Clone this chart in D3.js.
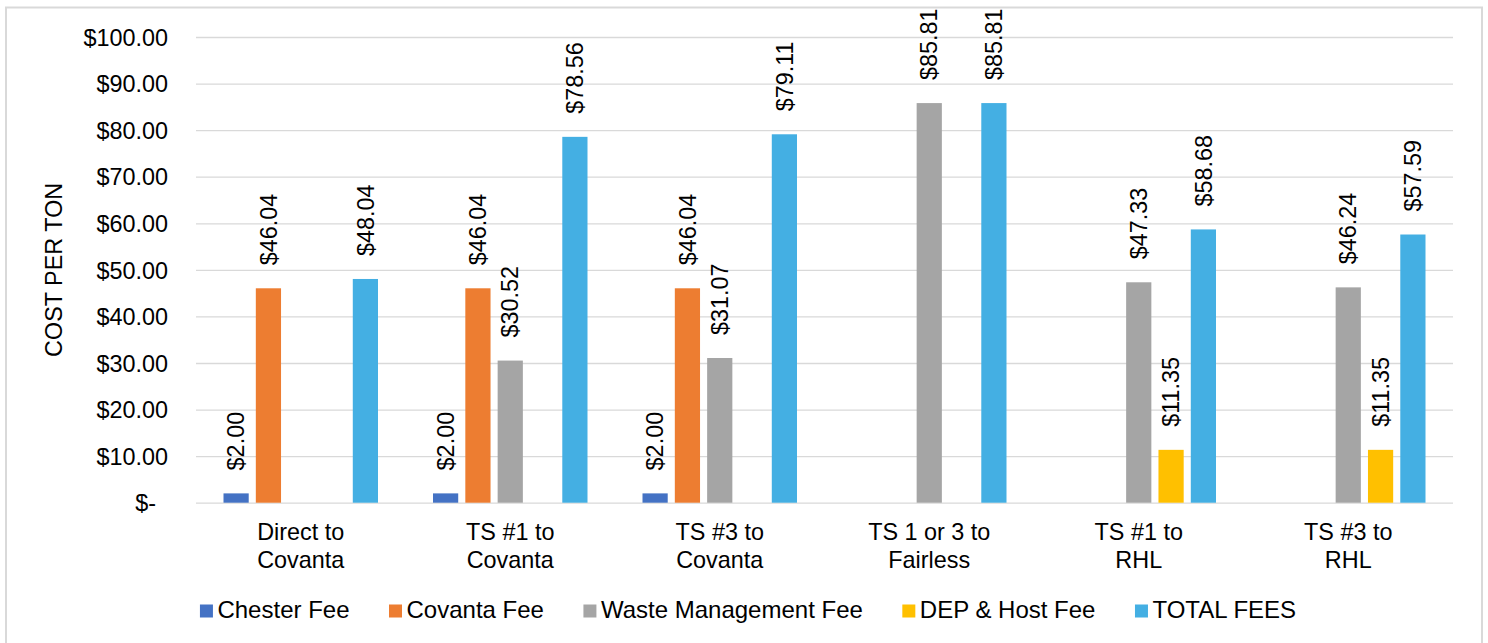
<!DOCTYPE html>
<html>
<head>
<meta charset="utf-8">
<script src="https://cdn.jsdelivr.net/npm/d3@7"></script>
<style>
  body { margin: 0; background: #fff; }
  svg text { font-family: 'Liberation Sans', Arial, sans-serif; fill: #000; }
</style>
</head>
<body>
<svg id="svg"></svg>
<script>
// data
let categories = [['Direct to', 'Covanta'], ['TS #1 to', 'Covanta'], ['TS #3 to', 'Covanta'],
    ['TS 1 or 3 to', 'Fairless'], ['TS #1 to', 'RHL'], ['TS #3 to', 'RHL']]
let seriesNames = ['Chester Fee', 'Covanta Fee', 'Waste Management Fee', 'DEP & Host Fee', 'TOTAL FEES']
let seriesColors = ['#4472C4', '#ED7D31', '#A5A5A5', '#FFC000', '#44AFE3']
let chesterFee = [2.00, 2.00, 2.00, null, null, null]
let covantaFee = [46.04, 46.04, 46.04, null, null, null]
let wasteMgmtFee = [null, 30.52, 31.07, 85.81, 47.33, 46.24]
let depHostFee = [null, null, null, null, 11.35, 11.35]
let totalFees = [48.04, 78.56, 79.11, 85.81, 58.68, 57.59]
let yTicks = [0, 10, 20, 30, 40, 50, 60, 70, 80, 90, 100]

let seriesValues = [chesterFee, covantaFee, wasteMgmtFee, depHostFee, totalFees]

let chartW = 1488, chartH = 643
let plotL = 196, plotR = 1453, plotT = 37, plotB = 502.7
let fontSize = 23.4

let svg = d3.select('#svg').attr('width', chartW).attr('height', chartH)

// chart border
svg.append('rect')
    .attr('x', 6).attr('y', 7.5)
    .attr('width', 1476).attr('height', 660)
    .attr('fill', 'none').attr('stroke', '#d9d9d9').attr('stroke-width', 2)

let catIdx = categories.map((d, i) => i)
let x0 = d3.scaleBand().domain(catIdx).range([plotL, plotR])
let groupPad = 27.5
let x1 = d3.scaleBand().domain(seriesNames)
    .range([groupPad, x0.bandwidth() - groupPad])
    .paddingInner(0.22)
let y = d3.scaleLinear().domain([0, 100]).range([plotB, plotT])

// gridlines + y labels
let yAxis = d3.axisLeft(y)
    .tickValues(yTicks)
    .tickSize(-(plotR - plotL))
    .tickPadding(28)
    .tickFormat(d => d === 0 ? '$-' : d3.format('$.2f')(d))
let yGroup = svg.append('g')
    .attr('transform', `translate(${plotL},0)`)
    .call(yAxis)
yGroup.select('.domain').remove()
yGroup.selectAll('.tick line').attr('stroke', '#d9d9d9').attr('stroke-width', 1.3)
yGroup.selectAll('.tick text')
    .attr('font-size', fontSize)
    .attr('dy', '0.35em')
    .attr('dx', d => d === 0 ? -12 : 0)

// y title
svg.append('text')
    .attr('transform', `translate(62,${(plotT + plotB) / 2}) rotate(-90)`)
    .attr('text-anchor', 'middle')
    .attr('font-size', fontSize)
    .text('COST PER TON')

// bars
let rows = []
catIdx.forEach(i => {
    seriesNames.forEach((s, j) => {
        let v = seriesValues[j][i]
        if (v != null) rows.push({ cat: i, series: s, color: seriesColors[j], value: v })
    })
})

svg.append('g')
    .selectAll('rect')
    .data(rows)
    .join('rect')
    .attr('x', d => x0(d.cat) + x1(d.series))
    .attr('y', d => y(d.value))
    .attr('width', x1.bandwidth())
    .attr('height', d => y(0) - y(d.value))
    .attr('fill', d => d.color)

// value labels
svg.append('g')
    .selectAll('text')
    .data(rows)
    .join('text')
    .attr('transform', d => `translate(${x0(d.cat) + x1(d.series) + x1.bandwidth() / 2},${y(d.value) - 23}) rotate(-90)`)
    .attr('dy', '0.35em')
    .attr('font-size', fontSize)
    .text(d => d3.format('$.2f')(d.value))

// category labels
let catLabels = svg.append('g')
    .selectAll('text')
    .data(categories)
    .join('text')
    .attr('text-anchor', 'middle')
    .attr('font-size', fontSize)
    .attr('x', (d, i) => x0(i) + x0.bandwidth() / 2)
    .attr('y', 540)
catLabels.selectAll('tspan')
    .data(d => d)
    .join('tspan')
    .attr('x', function () { return d3.select(this.parentNode).attr('x') })
    .attr('dy', (d, i) => i === 0 ? 0 : 28)
    .text(d => d)

// legend
let legend = svg.append('g')
let items = legend.selectAll('g')
    .data(seriesNames)
    .join('g')
items.append('rect')
    .attr('width', 13).attr('height', 13)
    .attr('y', -13.5)
    .attr('fill', (d, i) => seriesColors[i])
items.append('text')
    .attr('x', 17.5)
    .attr('font-size', 24)
    .text(d => d)
let gap = 39.5
let pos = 0
let offsets = []
items.each(function () {
    offsets.push(pos)
    pos += 17.5 + d3.select(this).select('text').node().getComputedTextLength() + gap
})
let legendW = pos - gap
let startX = 748 - legendW / 2
items.attr('transform', (d, i) => `translate(${startX + offsets[i]},618)`)
</script>
</body>
</html>
